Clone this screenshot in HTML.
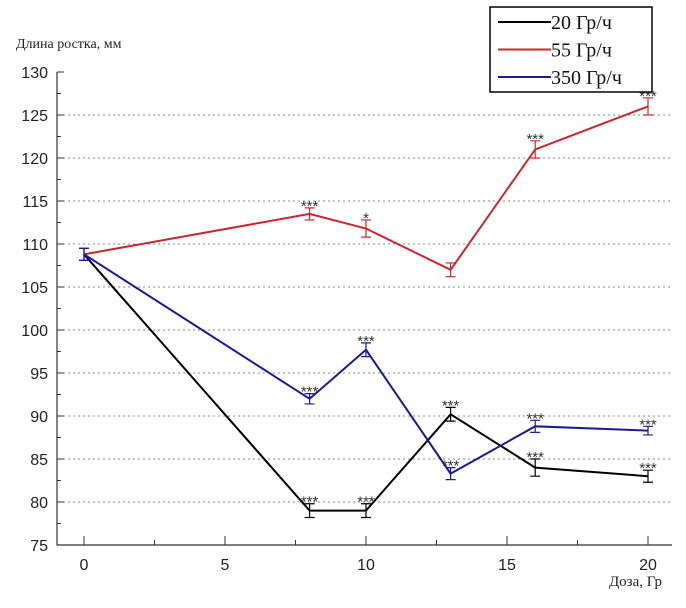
<!DOCTYPE html>
<html><head><meta charset="utf-8"><style>
body{margin:0;background:#fff;}
svg{display:block;font-family:"Liberation Sans",sans-serif;}
</style></head><body>
<svg id="c" width="686" height="608"></svg>
<script>
const doses=[0,8,10,13,16,20];
const s20=[108.8,79,79,90.2,84,83];
const s55=[108.8,113.5,111.8,107,121,126];
const s350=[108.8,92,97.7,83.3,88.8,88.3];
const err20=[0.7,0.8,0.8,0.8,1,0.7];
const err55=[0.7,0.7,1,0.8,1,1];
const err350=[0.7,0.6,0.8,0.7,0.7,0.5];
const sig20=["","***","***","***","***","***"];
const sig55=["","***","*","","***","***"];
const sig350=["","***","***","***","***","***"];
const yTicks=[75,80,85,90,95,100,105,110,115,120,125,130];
const xTicks=[0,5,10,15,20];
const NS="http://www.w3.org/2000/svg";
const svg=document.getElementById('c');
const X=v=>84+v*28.2, Y=v=>545-(v-75)*8.6;
function el(t,a,txt){const e=document.createElementNS(NS,t);for(const k in a)e.setAttribute(k,a[k]);if(txt!=null)e.textContent=txt;svg.appendChild(e);return e;}
yTicks.forEach(v=>{
 if(v>75&&v<130){const g=el('line',{x1:58,x2:672,y1:Y(v),y2:Y(v),stroke:'#888','stroke-dasharray':'2,3'});
 
 }
 const t=el('line',{x1:57,x2:64,y1:Y(v),y2:Y(v),stroke:'#333'});
 
 
 if(v<130){const m=el('line',{x1:57,x2:61,y1:Y(v+2.5),y2:Y(v+2.5),stroke:'#333'});
 
 }
 const l=el('text',{x:48,y:Y(v)+6,'text-anchor':'end','font-size':16,fill:'#222'},v);
 
 
});
xTicks.forEach(v=>{
 const t=el('line',{x1:X(v),x2:X(v),y1:545,y2:536,stroke:'#333'});
 
 
 if(v<20){const m=el('line',{x1:X(v+2.5),x2:X(v+2.5),y1:545,y2:540,stroke:'#333'});
 
 }
 const l=el('text',{x:X(v),y:570,'text-anchor':'middle','font-size':16,fill:'#222'},v);
 
 
});
const ax=el('path',{d:'M57,72 V545 H672',fill:'none',stroke:'#333','stroke-width':1.2});


function series(vals,errs,sigs,col,name){
 const p=el('polyline',{points:vals.map((v,i)=>X(doses[i])+','+Y(v)).join(' '),fill:'none',stroke:col,'stroke-width':2});
 
 
 vals.forEach((v,i)=>{
  const x=X(doses[i]),e=errs[i];
  const b=el('path',{d:`M${x},${Y(v+e)}V${Y(v-e)}M${x-5},${Y(v+e)}h10M${x-5},${Y(v-e)}h10`,stroke:col,'stroke-width':1.2,fill:'none'});
  
  
  if(sigs[i]){const t=el('text',{x:x,y:Y(v+e)+3,'text-anchor':'middle','font-size':15,fill:'#333'},sigs[i]);
  
  }
 });
}
series(s20,err20,sig20,'#000','series-20');
series(s55,err55,sig55,'#c8282d','series-55');
series(s350,err350,sig350,'#1a1a96','series-350');
const yt=el('text',{x:16,y:48,'font-size':14,fill:'#222','font-family':'Liberation Serif, serif'},'Длина ростка, мм');


const xt=el('text',{x:662,y:586,'text-anchor':'end','font-size':15,fill:'#222','font-family':'Liberation Serif, serif'},'Доза, Гр');


const lb=el('rect',{x:490,y:7,width:162,height:85,fill:'#fff',stroke:'#000','stroke-width':1.5});


[['20 Гр/ч','#000'],['55 Гр/ч','#c8282d'],['350 Гр/ч','#1a1a96']].forEach((d,i)=>{
 const y=22+i*27.5;
 const l=el('line',{x1:498,x2:551,y1:y,y2:y,stroke:d[1],'stroke-width':2});
 
 
 const t=el('text',{x:551,y:y+7,'font-size':20,fill:'#111','font-family':'Liberation Serif, serif'},d[0]);
 
 
});
</script>
</body></html>
